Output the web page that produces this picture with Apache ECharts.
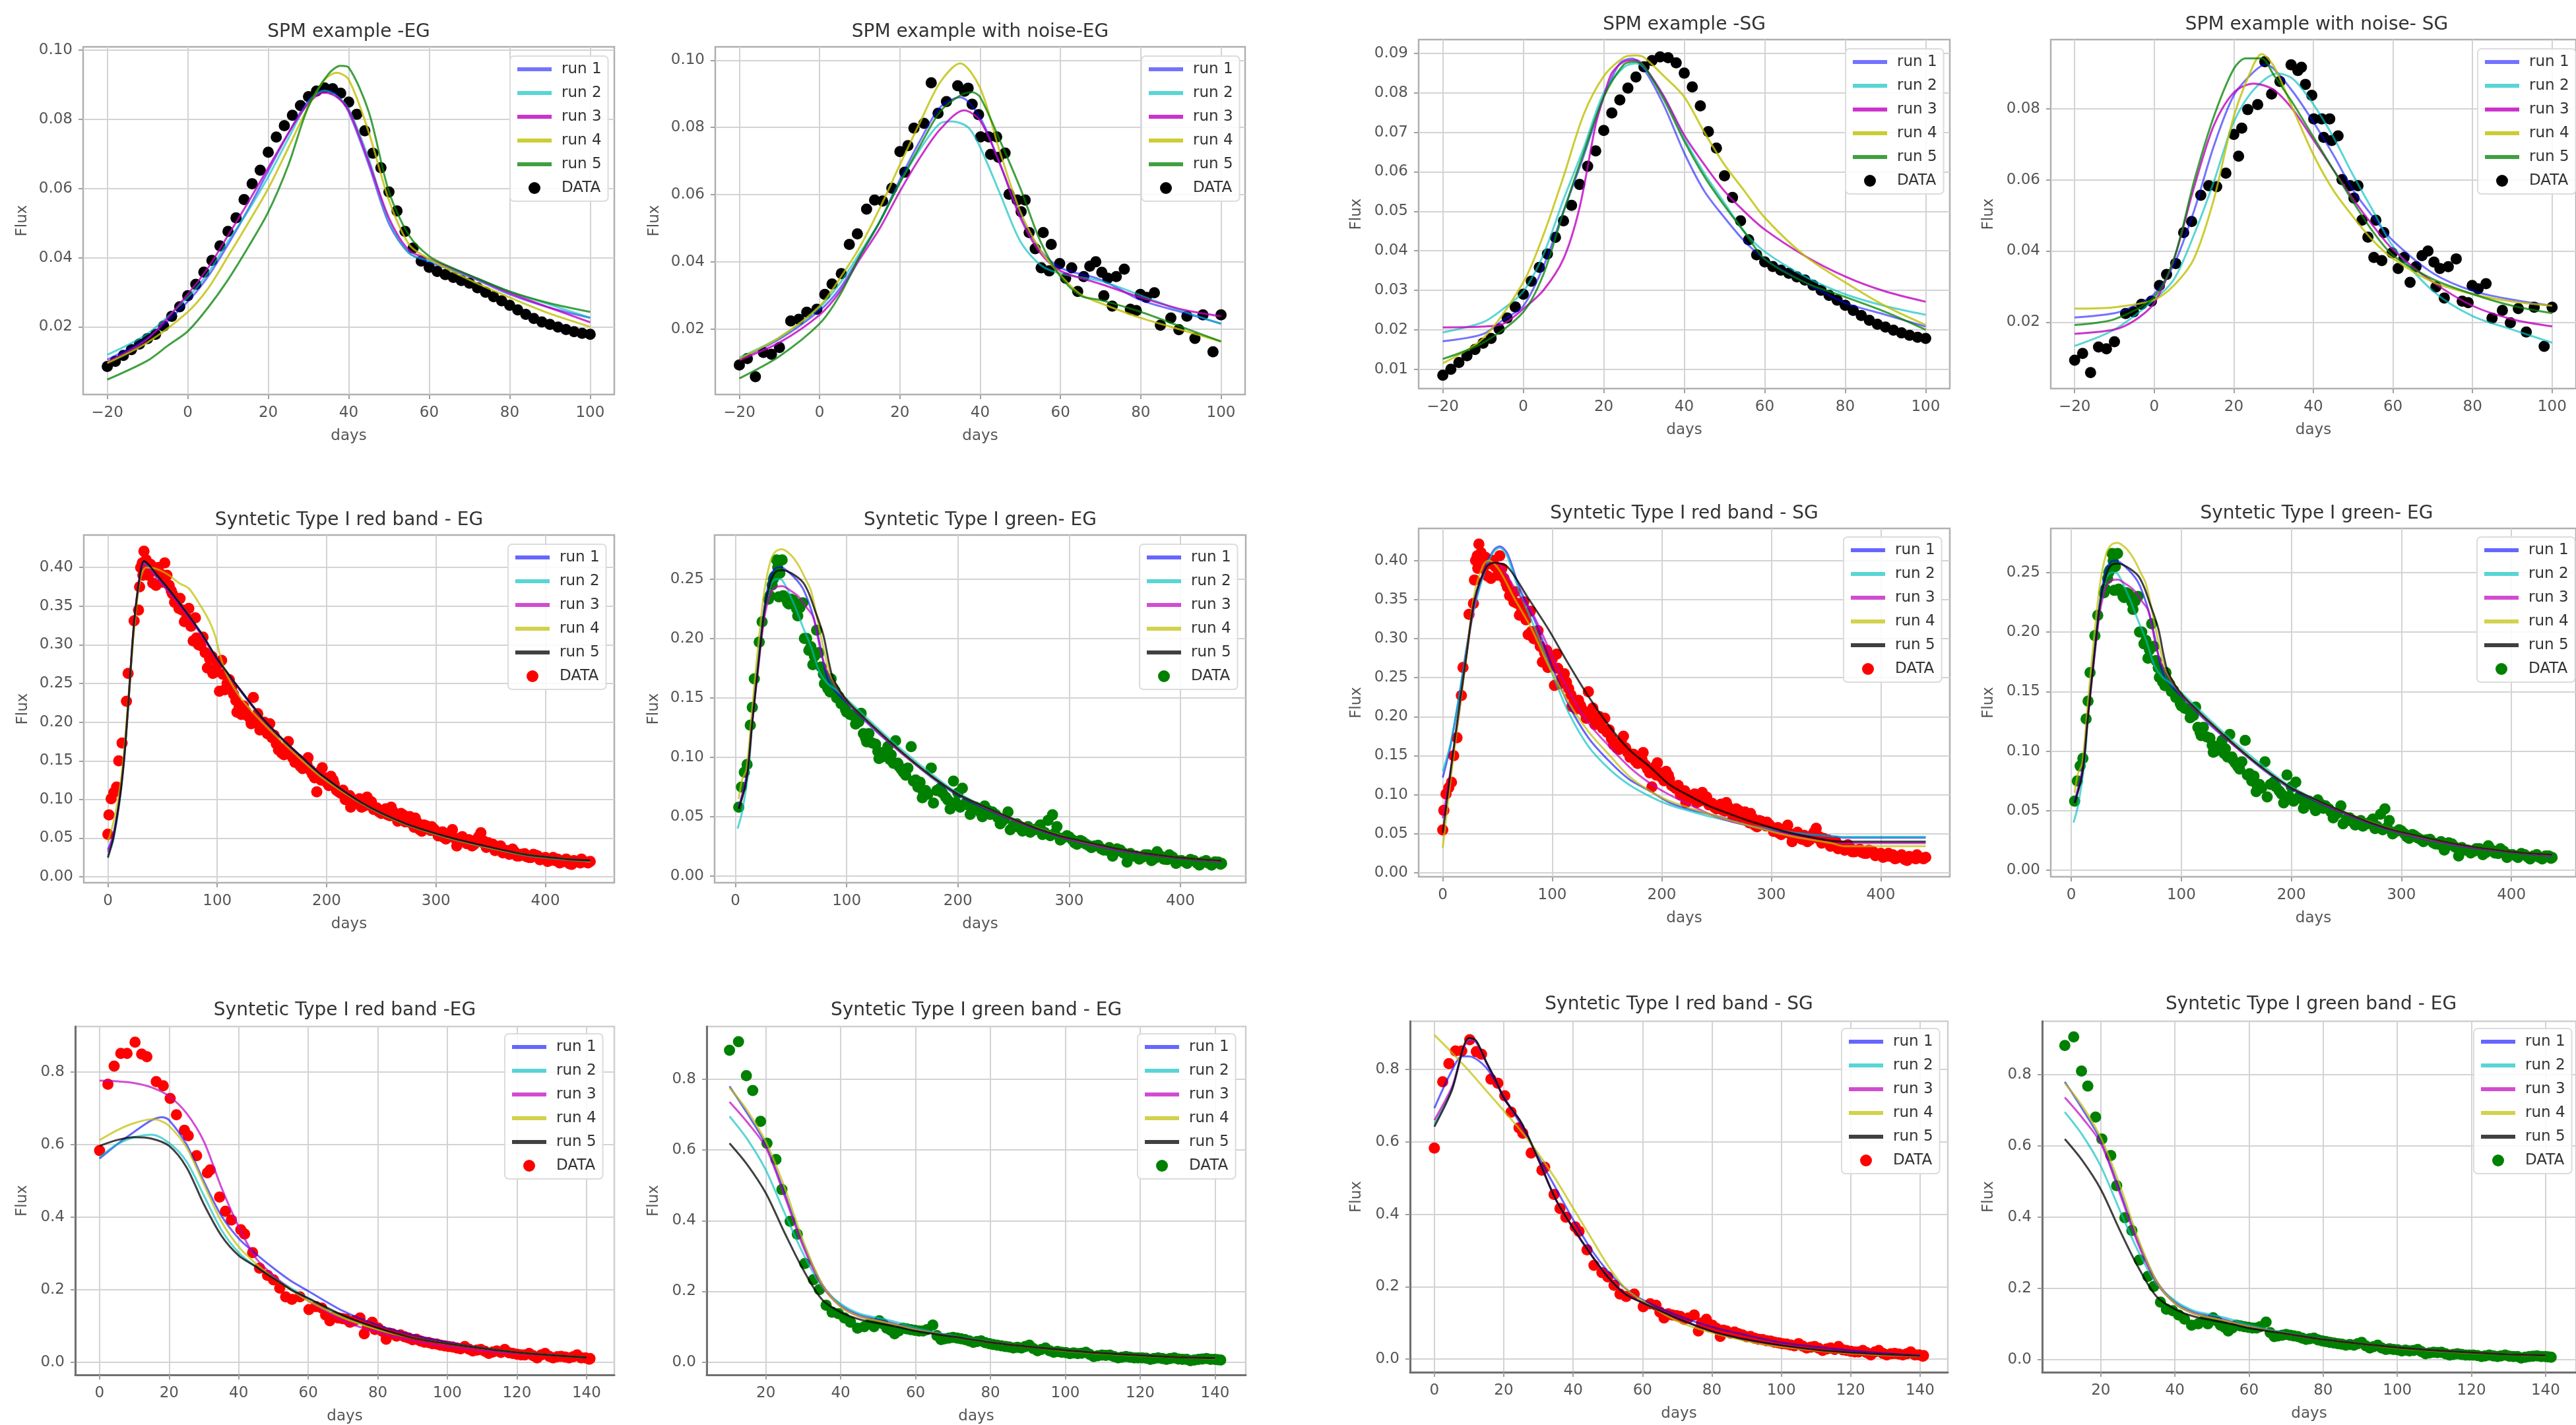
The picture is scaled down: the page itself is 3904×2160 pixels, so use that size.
<!DOCTYPE html>
<html>
<head>
<meta charset="utf-8">
<title>SPM fits</title>
<script src="https://cdn.jsdelivr.net/npm/echarts@6/dist/echarts.min.js"></script>
<style>
html, body { margin: 0; padding: 0; background: #ffffff; }
#chart { width: 3904px; height: 2160px; }
</style>
</head>
<body>
<div id="chart"></div>
<script>
// ---------- data: SPM example (smooth), used by panels 1 and 3 ----------
const spmDays = [-20,-18,-16,-14,-12,-10,-8,-6,-4,-2,0,2,4,6,8,10,12,14,16,18,20,22,24,26,28,30,32,34,36,38,40,42,44,46,48,50,52,54,56,58,60,62,64,66,68,70,72,74,76,78,80,82,84,86,88,90,92,94,96,98,100];
const spmFlux = [0.0085,0.0100,0.0117,0.0134,0.0150,0.0166,0.0178,0.0202,0.0230,0.0258,0.0290,0.0323,0.0358,0.0392,0.0434,0.0476,0.0515,0.0568,0.0614,0.0653,0.0705,0.0749,0.0782,0.0812,0.0840,0.0866,0.0882,0.0891,0.0889,0.0876,0.0850,0.0815,0.0767,0.0702,0.0660,0.0590,0.0535,0.0476,0.0428,0.0390,0.0372,0.0360,0.0351,0.0343,0.0334,0.0326,0.0313,0.0300,0.0287,0.0275,0.0262,0.0249,0.0236,0.0224,0.0214,0.0207,0.0199,0.0192,0.0186,0.0181,0.0178];

// ---------- data: SPM example with noise, used by panels 2 and 4 ----------
const noisyDays = [-20,-18,-16,-14,-12,-10,-7.2,-5.2,-3.2,-0.7,1.3,3.1,5.4,7.4,9.4,11.7,13.7,15.7,18,20,21.2,22,23.5,26,27.8,29.5,31.6,34.4,36.1,37,38,39.6,40.1,42.1,44.1,42.6,44.6,46.2,47.2,49.2,50.2,51.2,52.2,53.7,55.7,57.7,55.2,57.2,59.8,61.3,62.8,64.3,65.8,67.3,68.8,70.3,71.8,70.8,72.9,73.9,75.9,77.4,78.9,79.9,81.4,83.4,84.9,87.5,89.5,91.5,93.5,95.5,98,100];
const noisyFlux = [0.0093,0.0112,0.0058,0.0130,0.0125,0.0145,0.0224,0.0229,0.0250,0.0259,0.0303,0.0334,0.0365,0.0452,0.0483,0.0557,0.0584,0.0581,0.0619,0.0728,0.0667,0.0746,0.0798,0.0812,0.0933,0.0842,0.0877,0.0924,0.0908,0.0917,0.0869,0.0838,0.0772,0.0772,0.0772,0.0720,0.0711,0.0724,0.0601,0.0584,0.0549,0.0584,0.0487,0.0439,0.0487,0.0452,0.0382,0.0373,0.0395,0.0351,0.0382,0.0312,0.0356,0.0387,0.0400,0.0369,0.0351,0.0299,0.0268,0.0356,0.0378,0.0259,0.0255,0.0303,0.0294,0.0308,0.0211,0.0233,0.0198,0.0238,0.0172,0.0242,0.0132,0.0242];

// ---------- data: synthetic Type I, red band, long (panels 5 and 7) ----------
const redLongDays = [0,1,3,5.5,8,10,13,17,18.5,24,28,29,31.5,33,35,39,43,44,48,52,50,56,59,63,65,68,72,74,76,80,78,81,85,89,93,96,100,104,102,107,111,115,118,122,124,128,131,133,137,141,144,148,152,156,159,163,165,169,172,176,180,183,187,191,193,196,200,204,207,211,215,219,222,226,230,233,237,241,244,248,252,256,259,263,267,270,274,278,281,285,289,293,296,300,304,307,311,315,319,322,326,330,333,337,341,344,348,352,356,359,363,367,370,374,378,381,385,389,393,396,400,404,407,411,415,419,422,426,430,433,437,441,
    30,32,34,36,37,41,46,54,58,61,66,70,83,87,91,95,98,105,109,113,117,120,126,130,135,139,143,146,150,154,157,161,167,171,174,178,182,185,189,195,198,202,206,209,213,217,221,224,228,232,235,239,243,246,250,254,258,261,265,268,272,276,280,283,287,291,295,298,302,306,309,313,317,320,324,328,331,335,339,343,346,350,354,357,361,365,368,372,376,380,383,387,391,395,398,402,406,409,413,417,421,424,428,432,435,439];
const redLongFlux = [0.055,0.080,0.101,0.109,0.116,0.150,0.173,0.227,0.263,0.331,0.345,0.375,0.406,0.421,0.410,0.404,0.396,0.377,0.392,0.406,0.381,0.377,0.366,0.360,0.347,0.345,0.335,0.347,0.324,0.335,0.305,0.309,0.299,0.290,0.282,0.263,0.274,0.280,0.240,0.242,0.255,0.236,0.213,0.210,0.221,0.208,0.198,0.232,0.211,0.194,0.190,0.198,0.183,0.164,0.160,0.168,0.175,0.154,0.150,0.143,0.149,0.154,0.133,0.110,0.135,0.141,0.122,0.130,0.120,0.110,0.112,0.103,0.090,0.099,0.101,0.095,0.103,0.097,0.088,0.084,0.086,0.080,0.090,0.078,0.076,0.080,0.074,0.069,0.076,0.061,0.067,0.063,0.065,0.059,0.057,0.051,0.055,0.061,0.040,0.050,0.046,0.048,0.040,0.048,0.057,0.046,0.044,0.042,0.036,0.040,0.032,0.029,0.036,0.027,0.029,0.030,0.025,0.029,0.027,0.023,0.025,0.021,0.025,0.023,0.019,0.023,0.017,0.021,0.019,0.023,0.019,0.020,
    0.400,0.390,0.400,0.395,0.390,0.380,0.400,0.390,0.370,0.355,0.360,0.330,0.300,0.310,0.270,0.285,0.265,0.262,0.250,0.244,0.228,0.220,0.214,0.205,0.200,0.190,0.200,0.185,0.180,0.172,0.165,0.158,0.160,0.148,0.152,0.140,0.145,0.138,0.128,0.125,0.128,0.118,0.125,0.112,0.108,0.100,0.105,0.094,0.098,0.090,0.092,0.096,0.087,0.089,0.082,0.088,0.079,0.084,0.072,0.082,0.071,0.078,0.064,0.070,0.059,0.066,0.060,0.062,0.053,0.058,0.049,0.057,0.050,0.045,0.052,0.043,0.047,0.042,0.052,0.044,0.038,0.041,0.034,0.038,0.031,0.034,0.030,0.032,0.027,0.028,0.026,0.025,0.028,0.022,0.024,0.020,0.022,0.021,0.018,0.021,0.020,0.016,0.020,0.018,0.020,0.018];

// ---------- data: synthetic Type I, green, long (panels 6 and 8) ----------
const greenLongDays = [3,5.4,8,10.5,13.4,15.2,17,21.4,24,29.7,33,35,37,42,39,45,50,48,55,56,60.5,64,67.8,73,75,69.6,77,80,86,89.5,93,97,100,106,109,113,117,120,126,129,133,137,140,144,147,151,155,158,162,166,169,173,176,178,184,189,193,196,200,204,207,213,216,220,224,227,231,234,240,245,247,253,258,263,269,274,278,283,285,289,292,298,303,307,312,318,323,329,334,339,343,349,352,358,363,368,374,379,385,390,396,401,406,412,417,423,428,434,437,
    31,34,38,40,43,47,52,58,62,66,71,79,83,85,88,91,95,99,103,108,111,115,118,123,128,131,135,139,142,146,149,153,160,164,168,171,181,186,191,198,202,209,211,218,222,229,236,238,242,250,255,260,265,271,276,281,287,294,300,305,310,315,320,326,331,336,341,346,355,360,366,371,377,382,388,393,398,404,409,415,420,425,431,436];
const greenLongFlux = [0.058,0.075,0.0875,0.094,0.127,0.142,0.166,0.197,0.214,0.233,0.245,0.252,0.266,0.266,0.235,0.234,0.233,0.229,0.225,0.219,0.230,0.200,0.193,0.207,0.188,0.178,0.176,0.162,0.166,0.156,0.151,0.146,0.138,0.135,0.132,0.137,0.116,0.120,0.111,0.099,0.104,0.109,0.102,0.114,0.0925,0.0875,0.091,0.109,0.081,0.079,0.071,0.069,0.091,0.0615,0.074,0.0665,0.0565,0.080,0.070,0.074,0.0615,0.0553,0.058,0.054,0.059,0.0553,0.054,0.0516,0.0466,0.054,0.039,0.044,0.038,0.0417,0.039,0.043,0.0367,0.034,0.0516,0.0417,0.0305,0.034,0.0305,0.0268,0.029,0.0255,0.0255,0.023,0.0218,0.0169,0.023,0.0193,0.0119,0.0169,0.0144,0.018,0.0131,0.0206,0.0144,0.018,0.0107,0.0131,0.0107,0.0131,0.0094,0.0131,0.0094,0.0119,0.0107,
    0.236,0.250,0.260,0.255,0.236,0.230,0.232,0.226,0.200,0.190,0.185,0.170,0.158,0.155,0.158,0.150,0.145,0.140,0.136,0.128,0.130,0.120,0.113,0.112,0.105,0.100,0.101,0.098,0.095,0.095,0.090,0.085,0.080,0.075,0.066,0.072,0.072,0.070,0.064,0.062,0.058,0.060,0.052,0.057,0.050,0.052,0.049,0.044,0.048,0.043,0.041,0.040,0.037,0.040,0.035,0.047,0.036,0.032,0.033,0.028,0.030,0.027,0.024,0.026,0.022,0.024,0.020,0.022,0.019,0.017,0.016,0.018,0.015,0.017,0.014,0.016,0.013,0.012,0.014,0.011,0.012,0.011,0.012,0.010];

// ---------- data: synthetic Type I, red band, short (panels 9 and 11) ----------
const redShortDays = [0,2.4,4.2,6.1,7.9,10.2,12.1,13.6,16.3,18.3,20.3,22.1,24.4,25.5,27.9,31,34.5,36.2,37.9,40.6,41.7,44,46,48.3,50,51.8,53.5,55.3,57.6,60.2,62.2,63.9,66.2,68.6,70.9,73.2,74.9,76.1,78.4,80.1,82.4,84.2,86.5,88.8,91.1,93.4,95.7,98,100.3,102.7,105,107.3,109.6,111.9,114.2,116.5,118.8,121.2,123.5,125.8,128.1,130.4,132.7,135,137.3,139.7,140.8,
    31.8,65,67.4,69.8,72,77,79.2,81.3,83.3,85.4,87.7,90,92.3,94.6,96.9,99.2,101.5,103.8,106.2,108.5,110.8,113.1,115.4,117.7,120,122.3,124.6,127,129.3,131.6,133.9,136.2,138.5,141];
const redShortFlux = [0.583,0.766,0.816,0.851,0.851,0.882,0.849,0.842,0.773,0.762,0.727,0.682,0.639,0.624,0.569,0.522,0.455,0.416,0.392,0.365,0.353,0.302,0.259,0.239,0.227,0.204,0.18,0.173,0.18,0.145,0.153,0.149,0.114,0.122,0.118,0.114,0.122,0.078,0.11,0.094,0.063,0.078,0.075,0.067,0.063,0.055,0.051,0.047,0.043,0.039,0.043,0.031,0.035,0.024,0.031,0.035,0.024,0.02,0.024,0.012,0.024,0.012,0.016,0.012,0.02,0.012,0.008,
    0.530,0.130,0.125,0.120,0.110,0.100,0.090,0.085,0.080,0.072,0.070,0.062,0.058,0.054,0.050,0.045,0.042,0.037,0.036,0.033,0.030,0.028,0.027,0.026,0.022,0.020,0.018,0.020,0.016,0.015,0.014,0.015,0.012,0.010];

// ---------- data: synthetic Type I, green band, short (panels 10 and 12) ----------
const greenShortDays = [10.3,12.7,14.8,16.5,18.6,20.3,22.7,24.3,26.5,28.4,30.4,32.7,34.3,36.1,37.7,39.4,41,42.6,44.5,46.3,47.9,50.3,52.3,54.4,56.6,58.7,60.9,63,64.6,66.8,68.9,71.1,73.2,75.4,77.5,79.7,81.8,84,86.1,88.3,90.4,92.6,94.7,96.9,99,101.2,103.3,105.5,107.6,109.8,111.9,114.1,116.2,118.4,120.5,122.7,124.8,127,129.1,131.3,133.4,135.6,137.7,139.9,141.5,
    48.9,51.3,53.4,55.5,57.6,59.8,62,65.7,67.8,70,72.1,74.3,76.4,78.6,80.7,82.9,85,87.2,89.3,91.5,93.6,95.8,97.9,100.1,102.2,104.4,106.5,108.7,110.8,113,115.1,117.3,119.4,121.6,123.7,125.9,128,130.2,132.4,134.5,136.6,138.8,140.7];
const greenShortFlux = [0.882,0.906,0.81,0.768,0.681,0.619,0.573,0.488,0.398,0.362,0.279,0.233,0.205,0.161,0.141,0.137,0.125,0.113,0.096,0.1,0.109,0.117,0.096,0.08,0.096,0.092,0.088,0.092,0.105,0.064,0.068,0.068,0.064,0.056,0.06,0.052,0.048,0.044,0.04,0.04,0.048,0.032,0.04,0.028,0.028,0.024,0.024,0.028,0.016,0.02,0.02,0.012,0.016,0.012,0.012,0.008,0.012,0.008,0.012,0.008,0.004,0.008,0.01,0.008,0.006,
    0.100,0.108,0.090,0.088,0.094,0.090,0.088,0.075,0.066,0.070,0.066,0.060,0.058,0.055,0.050,0.046,0.043,0.042,0.044,0.038,0.036,0.032,0.030,0.027,0.026,0.025,0.022,0.018,0.019,0.016,0.014,0.014,0.012,0.011,0.010,0.010,0.010,0.009,0.008,0.006,0.009,0.008,0.007];

// ---------- fitted runs, [day, flux] ----------
const p1Run1 = [[-20,0.0105],[-10,0.0168],[0,0.0273],[5,0.0345],[10,0.0438],[15,0.054],[20,0.0651],[25,0.076],[30,0.0855],[34,0.0885],[37,0.087],[40,0.0821],[45,0.0668],[50,0.0498],[55,0.0413],[60,0.0387],[70,0.0345],[80,0.0294],[90,0.0255],[100,0.0226]];
const p1Run2 = [[-20,0.0119],[-10,0.018],[0,0.0285],[5,0.0355],[10,0.0447],[15,0.0535],[20,0.0634],[25,0.0745],[30,0.0851],[34,0.0883],[37,0.0868],[40,0.083],[45,0.0685],[50,0.0506],[55,0.0413],[60,0.0391],[70,0.0349],[80,0.0302],[90,0.0264],[100,0.0226]];
const p1Run3 = [[-20,0.0098],[-10,0.0165],[0,0.0294],[5,0.037],[10,0.0464],[15,0.056],[20,0.066],[25,0.076],[30,0.0847],[34,0.0878],[37,0.0865],[40,0.0826],[45,0.0677],[50,0.0515],[55,0.0421],[60,0.0396],[70,0.0349],[80,0.0298],[90,0.0255],[100,0.0213]];
const p1Run4 = [[-20,0.0095],[-10,0.0155],[0,0.0243],[5,0.031],[10,0.0404],[15,0.05],[20,0.06],[25,0.0718],[30,0.0838],[34,0.0915],[37,0.0935],[40,0.0915],[45,0.0762],[50,0.0566],[55,0.0438],[60,0.0396],[70,0.0336],[80,0.0285],[90,0.0238],[100,0.02]];
const p1Run5 = [[-20,0.0047],[-10,0.0102],[-5,0.0145],[0,0.0187],[5,0.0255],[10,0.0336],[15,0.043],[20,0.0532],[25,0.0668],[30,0.0838],[35,0.0932],[38,0.0955],[40,0.095],[45,0.0821],[50,0.0591],[55,0.0464],[60,0.0404],[65,0.0374],[70,0.0349],[80,0.0302],[90,0.0268],[100,0.0243]];

const p2Run1 = [[-20,0.0111],[-10,0.017],[0,0.0255],[5,0.032],[10,0.0417],[15,0.052],[20,0.0645],[25,0.076],[30,0.086],[35,0.089],[40,0.0829],[45,0.0689],[50,0.054],[55,0.0435],[60,0.0382],[70,0.0347],[80,0.0286],[90,0.0251],[100,0.0216]];
const p2Run2 = [[-20,0.0115],[-10,0.0175],[0,0.0264],[5,0.0335],[10,0.0426],[15,0.052],[20,0.0636],[25,0.0735],[30,0.0812],[33,0.0818],[37,0.08],[40,0.0741],[45,0.0601],[50,0.0461],[55,0.0391],[60,0.0365],[70,0.0343],[80,0.03],[90,0.0255],[100,0.0215]];
const p2Run3 = [[-20,0.0108],[-10,0.016],[0,0.0242],[5,0.031],[10,0.0408],[15,0.05],[20,0.061],[25,0.071],[30,0.0794],[36,0.0851],[40,0.082],[45,0.0689],[50,0.0531],[55,0.0426],[60,0.0373],[70,0.0334],[80,0.0294],[90,0.0259],[100,0.0238]];
const p2Run4 = [[-20,0.0112],[-10,0.0175],[0,0.0268],[5,0.035],[10,0.0444],[15,0.056],[20,0.0689],[25,0.0815],[30,0.0934],[35,0.0991],[40,0.0917],[45,0.0724],[50,0.0549],[55,0.0435],[60,0.036],[65,0.0303],[70,0.0277],[80,0.0233],[90,0.0198],[100,0.0163]];
const p2Run5 = [[-20,0.0053],[-10,0.0119],[0,0.0216],[5,0.03],[10,0.0417],[15,0.052],[20,0.0636],[25,0.0745],[30,0.0847],[35,0.0895],[38,0.0905],[40,0.089],[45,0.0759],[50,0.0619],[55,0.0461],[60,0.0356],[65,0.0299],[70,0.0286],[80,0.0251],[90,0.0207],[100,0.0163]];

const p3Run1 = [[-20,0.0171],[-10,0.0189],[-5,0.0225],[0,0.026],[5,0.036],[10,0.05],[15,0.064],[20,0.079],[24,0.0875],[27,0.0887],[30,0.086],[35,0.0767],[40,0.0648],[45,0.0551],[50,0.0484],[55,0.0424],[60,0.0379],[70,0.032],[80,0.0268],[90,0.0238],[100,0.0208]];
const p3Run2 = [[-20,0.0193],[-10,0.0219],[-5,0.0253],[0,0.0297],[5,0.039],[10,0.053],[15,0.066],[20,0.08],[25,0.0865],[28,0.0875],[30,0.0864],[35,0.079],[40,0.0685],[45,0.0596],[50,0.0521],[55,0.0447],[60,0.0398],[70,0.0335],[80,0.029],[90,0.026],[100,0.0238]];
const p3Run3 = [[-20,0.0206],[-10,0.0208],[-5,0.0215],[0,0.0253],[5,0.03],[10,0.038],[14,0.051],[18,0.072],[20,0.079],[22,0.085],[25,0.0879],[28,0.0883],[30,0.0868],[35,0.079],[40,0.0693],[45,0.0618],[50,0.0551],[55,0.0499],[60,0.0454],[70,0.0387],[80,0.0335],[90,0.0297],[100,0.0271]];
const p3Run4 = [[-20,0.0115],[-10,0.0178],[0,0.032],[5,0.044],[10,0.0588],[15,0.0745],[20,0.0842],[25,0.089],[28,0.0895],[30,0.089],[35,0.0842],[40,0.079],[45,0.07],[50,0.0618],[55,0.0551],[60,0.0484],[70,0.0387],[80,0.032],[90,0.026],[100,0.0212]];
const p3Run5 = [[-20,0.0126],[-10,0.0167],[0,0.0245],[5,0.034],[10,0.0499],[15,0.0648],[20,0.079],[25,0.0872],[28,0.0879],[30,0.0868],[35,0.0782],[40,0.0678],[45,0.0588],[50,0.0514],[55,0.0447],[60,0.0379],[70,0.032],[80,0.0283],[90,0.0245],[100,0.02]];

const p4Run1 = [[-20,0.0213],[-10,0.0225],[-5,0.0246],[0,0.0279],[5,0.0363],[10,0.0513],[15,0.0696],[20,0.0838],[25,0.0904],[28,0.0925],[30,0.0913],[35,0.0846],[40,0.0763],[45,0.0671],[50,0.0571],[55,0.0496],[60,0.0429],[70,0.0338],[80,0.0288],[90,0.0263],[100,0.0246]];
const p4Run2 = [[-20,0.0133],[-10,0.0179],[0,0.0263],[5,0.0321],[10,0.0446],[15,0.0596],[20,0.0763],[25,0.0854],[31,0.09],[35,0.0883],[40,0.0813],[45,0.0721],[50,0.0613],[55,0.0513],[60,0.0413],[70,0.0288],[80,0.0217],[90,0.0179],[100,0.0142]];
const p4Run3 = [[-20,0.0167],[-10,0.0179],[-5,0.0204],[0,0.0254],[5,0.0379],[10,0.0579],[15,0.0754],[20,0.0846],[25,0.0871],[30,0.0854],[35,0.0796],[40,0.0713],[45,0.0629],[50,0.0546],[55,0.0471],[60,0.0404],[70,0.0313],[80,0.0246],[90,0.0208],[100,0.0188]];
const p4Run4 = [[-20,0.0238],[-10,0.0242],[0,0.0263],[5,0.0304],[10,0.0379],[15,0.0546],[20,0.0779],[25,0.0925],[27,0.0954],[30,0.0921],[35,0.0796],[40,0.0671],[45,0.0571],[50,0.0496],[55,0.0429],[60,0.0379],[70,0.0313],[80,0.0279],[90,0.0258],[100,0.0246]];
const p4Run5 = [[-20,0.0192],[-10,0.0208],[0,0.0271],[5,0.0379],[10,0.0596],[15,0.0779],[20,0.0913],[23,0.0942],[27,0.0942],[30,0.0896],[35,0.0813],[40,0.0721],[45,0.0629],[50,0.0538],[55,0.0454],[60,0.0388],[70,0.0321],[80,0.0279],[90,0.0246],[100,0.0225]];

const p5Run1 = [[0,0.035],[5,0.055],[11,0.105],[15,0.158],[18.5,0.222],[24,0.33],[29.6,0.393],[33,0.408],[37,0.403],[45,0.389],[59,0.365],[85,0.315],[100,0.281],[122,0.239],[141,0.205],[159,0.178],[178,0.153],[196,0.13],[233,0.094],[270,0.069],[307,0.052],[344,0.039],[381,0.029],[419,0.023],[441,0.021]];
const p5Run2 = [[0,0.028],[5,0.048],[11,0.1],[15,0.152],[18.5,0.216],[24,0.325],[29.6,0.39],[33,0.406],[37,0.402],[45,0.389],[59,0.366],[85,0.316],[100,0.282],[122,0.24],[141,0.206],[159,0.179],[178,0.154],[196,0.131],[233,0.095],[270,0.07],[307,0.052],[344,0.039],[381,0.028],[419,0.022],[441,0.02]];
const p5Run3 = [[0,0.032],[5,0.052],[11,0.104],[15,0.156],[18.5,0.22],[24,0.328],[29.6,0.391],[33,0.405],[37,0.4],[45,0.386],[59,0.363],[85,0.314],[100,0.281],[122,0.24],[141,0.206],[159,0.179],[178,0.154],[196,0.131],[233,0.095],[270,0.07],[307,0.053],[344,0.04],[381,0.029],[419,0.023],[441,0.021]];
const p5Run4 = [[0,0.045],[5,0.07],[11,0.115],[15,0.165],[18.5,0.225],[24,0.32],[29.6,0.385],[35,0.4],[45,0.398],[56,0.39],[65,0.38],[74,0.373],[85,0.35],[93,0.33],[98,0.312],[102,0.29],[107,0.267],[115,0.245],[125,0.225],[141,0.2],[159,0.175],[178,0.15],[196,0.128],[233,0.094],[270,0.069],[307,0.052],[344,0.039],[381,0.029],[441,0.02]];
const p5Run5 = [[0,0.0248],[5,0.05],[11,0.103],[15,0.155],[18.5,0.221],[24,0.328],[29.6,0.392],[33,0.408],[37,0.404],[45,0.39],[59,0.366],[85,0.316],[100,0.282],[122,0.24],[141,0.206],[159,0.179],[178,0.154],[196,0.131],[233,0.095],[270,0.07],[307,0.053],[344,0.04],[381,0.029],[419,0.023],[441,0.021]];

const p6Run1 = [[3,0.058],[10,0.085],[15,0.132],[20.6,0.182],[26,0.226],[31.5,0.252],[36,0.259],[40.6,0.26],[50,0.254],[60,0.243],[66,0.23],[71,0.215],[76,0.195],[81,0.172],[86,0.16],[100,0.146],[125,0.123],[150,0.103],[175,0.084],[200,0.068],[250,0.047],[300,0.031],[350,0.021],[400,0.015],[437,0.012]];
const p6Run2 = [[2,0.04],[6,0.054],[12,0.091],[17,0.153],[24,0.21],[31.5,0.245],[37,0.25],[42,0.249],[53,0.228],[60.5,0.21],[68,0.193],[75,0.173],[82,0.163],[90,0.157],[100,0.149],[125,0.127],[150,0.106],[175,0.087],[200,0.07],[250,0.048],[300,0.032],[350,0.022],[400,0.0155],[437,0.0125]];
const p6Run3 = [[3,0.057],[10,0.083],[15,0.128],[20.6,0.176],[26,0.217],[31.5,0.238],[36,0.243],[42,0.244],[50,0.24],[57,0.235],[64,0.226],[70,0.218],[77,0.188],[82,0.173],[88,0.163],[100,0.147],[125,0.124],[150,0.103],[175,0.085],[200,0.069],[250,0.047],[300,0.031],[350,0.021],[400,0.015],[437,0.012]];
const p6Run4 = [[3,0.065],[6,0.081],[10,0.09],[15,0.14],[20.6,0.195],[26,0.24],[31.5,0.265],[36,0.273],[41.7,0.275],[50,0.27],[57,0.261],[63,0.25],[68,0.24],[75,0.21],[82,0.18],[86,0.168],[100,0.148],[125,0.125],[150,0.104],[175,0.085],[200,0.069],[250,0.048],[300,0.032],[350,0.022],[400,0.0156],[437,0.013]];
const p6Run5 = [[3,0.0565],[10,0.081],[15,0.128],[20.6,0.178],[26,0.223],[31.5,0.2475],[36,0.256],[42,0.2575],[50,0.255],[60.5,0.2475],[66,0.238],[71,0.225],[79,0.203],[84,0.18],[88,0.166],[100,0.148],[125,0.125],[150,0.104],[175,0.085],[200,0.069],[225,0.058],[250,0.048],[275,0.039],[300,0.032],[350,0.022],[400,0.0156],[437,0.013]];

const p7Run1 = [[0,0.122],[7,0.162],[14.5,0.222],[22,0.29],[29,0.343],[40,0.395],[47,0.414],[52,0.418],[59,0.409],[70,0.365],[85,0.32],[100,0.264],[115,0.215],[133,0.173],[152,0.143],[170,0.12],[189,0.105],[207,0.09],[226,0.081],[244,0.075],[263,0.068],[281,0.06],[300,0.055],[318,0.051],[337,0.049],[355,0.047],[367,0.045],[441,0.045]];
const p7Run2 = [[0,0.13],[7,0.165],[14.5,0.222],[22,0.288],[29,0.34],[40,0.393],[47,0.412],[52,0.416],[59,0.405],[70,0.36],[85,0.31],[100,0.255],[115,0.205],[133,0.162],[152,0.133],[170,0.113],[189,0.098],[207,0.087],[226,0.079],[244,0.072],[263,0.066],[281,0.06],[300,0.056],[318,0.052],[337,0.049],[355,0.047],[367,0.046],[441,0.046]];
const p7Run3 = [[0,0.07],[7,0.13],[14.5,0.2],[22,0.282],[29,0.345],[37,0.385],[45,0.398],[52,0.395],[59,0.38],[70,0.355],[81,0.335],[96,0.29],[115,0.233],[133,0.192],[152,0.162],[170,0.136],[189,0.115],[207,0.1],[226,0.087],[244,0.075],[263,0.066],[281,0.06],[318,0.049],[355,0.041],[367,0.038],[441,0.038]];
const p7Run4 = [[0,0.032],[7,0.117],[14.5,0.2],[22,0.282],[29,0.358],[37,0.394],[42,0.4],[51.5,0.388],[66,0.35],[81,0.313],[96,0.267],[115,0.218],[133,0.181],[152,0.151],[170,0.124],[189,0.105],[207,0.092],[244,0.075],[281,0.06],[318,0.047],[355,0.038],[367,0.034],[441,0.034]];
const p7Run5 = [[0,0.051],[7,0.128],[14.5,0.207],[22,0.282],[29,0.35],[40,0.392],[47,0.397],[59,0.392],[77,0.354],[96,0.313],[115,0.267],[133,0.226],[152,0.188],[170,0.158],[189,0.136],[207,0.113],[226,0.098],[244,0.085],[263,0.075],[281,0.066],[318,0.051],[355,0.041],[367,0.04],[441,0.04]];

const p9Run1 = [[0,0.561],[5,0.6],[10,0.635],[15,0.667],[18,0.675],[20,0.667],[25,0.6],[30,0.498],[35,0.404],[40,0.341],[45,0.298],[50,0.259],[55,0.224],[60,0.196],[70,0.141],[80,0.102],[90,0.075],[100,0.055],[110,0.039],[120,0.027],[130,0.02],[140,0.012]];
const p9Run2 = [[0,0.565],[5,0.6],[10,0.62],[15,0.627],[20,0.604],[25,0.553],[30,0.459],[35,0.365],[40,0.302],[45,0.263],[50,0.235],[55,0.204],[60,0.176],[70,0.125],[80,0.09],[90,0.067],[100,0.051],[120,0.027],[140,0.013]];
const p9Run3 = [[0,0.776],[5,0.774],[10,0.769],[15,0.757],[20,0.733],[25,0.686],[30,0.608],[35,0.482],[40,0.373],[45,0.286],[50,0.239],[55,0.2],[60,0.169],[70,0.114],[80,0.082],[90,0.059],[100,0.043],[110,0.031],[120,0.024],[130,0.018],[140,0.013]];
const p9Run4 = [[0,0.612],[5,0.639],[10,0.659],[15,0.669],[17,0.667],[20,0.651],[25,0.592],[30,0.49],[35,0.388],[40,0.318],[45,0.271],[50,0.231],[55,0.2],[60,0.169],[70,0.122],[80,0.09],[90,0.067],[100,0.051],[120,0.027],[140,0.013]];
const p9Run5 = [[0,0.596],[5,0.612],[10,0.62],[15,0.616],[20,0.596],[25,0.537],[30,0.435],[35,0.349],[40,0.294],[45,0.263],[50,0.231],[55,0.2],[60,0.176],[70,0.129],[80,0.094],[90,0.067],[100,0.051],[120,0.027],[140,0.013]];

const p10Run1 = [[10.3,0.78],[15,0.704],[20,0.615],[25,0.478],[30,0.334],[35,0.221],[40,0.161],[45,0.133],[50,0.121],[55,0.107],[60,0.094],[70,0.073],[80,0.057],[90,0.044],[100,0.033],[110,0.025],[120,0.019],[130,0.014],[140,0.011]];
const p10Run2 = [[10.3,0.695],[15,0.631],[20,0.543],[25,0.422],[30,0.306],[35,0.213],[40,0.165],[45,0.137],[50,0.125],[55,0.113],[60,0.096],[70,0.074],[80,0.057],[90,0.044],[100,0.033],[110,0.025],[120,0.019],[130,0.014],[140,0.011]];
const p10Run3 = [[10.3,0.736],[15,0.679],[20,0.607],[25,0.47],[30,0.326],[35,0.217],[40,0.157],[45,0.129],[50,0.117],[55,0.105],[60,0.092],[70,0.072],[80,0.056],[90,0.044],[100,0.033],[110,0.025],[120,0.019],[130,0.014],[140,0.011]];
const p10Run4 = [[10.3,0.776],[15,0.712],[20,0.623],[25,0.494],[30,0.342],[35,0.221],[40,0.157],[45,0.129],[50,0.117],[55,0.105],[60,0.092],[70,0.072],[80,0.056],[90,0.044],[100,0.032],[110,0.024],[120,0.018],[130,0.014],[140,0.01]];
const p10Run5 = [[10.3,0.619],[15,0.559],[20,0.478],[25,0.366],[30,0.261],[35,0.177],[40,0.141],[45,0.121],[50,0.11],[55,0.1],[60,0.088],[70,0.072],[80,0.056],[90,0.044],[100,0.033],[110,0.025],[120,0.019],[130,0.014],[140,0.011]];

const p11Run1 = [[0,0.693],[5,0.796],[8,0.836],[10,0.836],[15,0.804],[20,0.725],[25,0.646],[30,0.559],[35,0.472],[40,0.385],[45,0.306],[50,0.243],[55,0.196],[60,0.164],[70,0.121],[80,0.089],[90,0.066],[100,0.046],[110,0.034],[120,0.024],[130,0.016],[140,0.01]];
const p11Run2 = [[0,0.65],[5,0.745],[10,0.883],[12,0.878],[15,0.82],[18,0.764],[20,0.721],[25,0.654],[30,0.551],[35,0.441],[40,0.362],[45,0.291],[50,0.227],[55,0.18],[60,0.156],[70,0.113],[80,0.077],[90,0.054],[100,0.038],[110,0.026],[120,0.018],[130,0.013],[140,0.009]];
const p11Run3 = [[0,0.66],[5,0.75],[10,0.88],[12,0.875],[15,0.818],[18,0.763],[20,0.72],[25,0.653],[30,0.55],[35,0.441],[40,0.362],[45,0.291],[50,0.227],[55,0.18],[60,0.156],[70,0.113],[80,0.077],[90,0.054],[100,0.038],[110,0.026],[120,0.018],[130,0.013],[140,0.009]];
const p11Run4 = [[0,0.895],[5,0.847],[10,0.796],[15,0.741],[20,0.686],[25,0.63],[30,0.567],[35,0.496],[40,0.417],[45,0.338],[50,0.259],[55,0.196],[60,0.161],[70,0.105],[80,0.073],[90,0.05],[100,0.034],[120,0.016],[140,0.008]];
const p11Run5 = [[0,0.642],[5,0.741],[10,0.887],[12,0.88],[15,0.82],[18,0.764],[20,0.721],[25,0.654],[30,0.551],[35,0.441],[40,0.362],[45,0.291],[50,0.227],[55,0.18],[60,0.156],[70,0.113],[80,0.077],[90,0.054],[100,0.038],[110,0.026],[120,0.018],[130,0.013],[140,0.009]];

// ---------- tick labels ----------
const spmDayTicks = [-20, 0, 20, 40, 60, 80, 100];
const longDayTicks = [0, 100, 200, 300, 400];
const shortDayTicks = [0, 20, 40, 60, 80, 100, 120, 140];
const shortDayTicksG = [20, 40, 60, 80, 100, 120, 140];
const spmFluxTicks = [0.02, 0.04, 0.06, 0.08, 0.10];
const spmSgFluxTicks = [0.01, 0.02, 0.03, 0.04, 0.05, 0.06, 0.07, 0.08, 0.09];
const spmNoiseSgFluxTicks = [0.02, 0.04, 0.06, 0.08];
const redFluxTicks = [0, 0.05, 0.10, 0.15, 0.20, 0.25, 0.30, 0.35, 0.40];
const greenFluxTicks = [0, 0.05, 0.10, 0.15, 0.20, 0.25];
const shortFluxTicks = [0, 0.2, 0.4, 0.6, 0.8];

const runNames = ['run 1', 'run 2', 'run 3', 'run 4', 'run 5'];
const colorsTop = ['rgba(0,0,255,0.55)', 'rgba(0,191,191,0.65)', 'rgba(191,0,191,0.8)', 'rgba(191,191,0,0.8)', 'rgba(0,128,0,0.75)'];
const colorsLow = ['rgba(0,0,255,0.6)', 'rgba(0,191,191,0.65)', 'rgba(191,0,191,0.7)', 'rgba(191,191,0,0.7)', 'rgba(0,0,0,0.75)'];

function zip(xs, ys) {
    return xs.map(function (x, i) { return [x, ys[i]]; });
}

// panel list: box = [left, top, width, height] of the plot area
const panels = [
    { title: 'SPM example -EG', runs: [p1Run1, p1Run2, p1Run3, p1Run4, p1Run5], dx: spmDays, dy: spmFlux, dataColor: '#000000', colors: colorsTop,
      box: [126, 71, 805, 527], titleY: 49, legendAt: [773, 85], x: [-26, 106], xt: spmDayTicks, y: [0.0004, 0.101], yt: spmFluxTicks, dec: 2, nameGap: 80 },
    { title: 'SPM example with noise-EG', runs: [p2Run1, p2Run2, p2Run3, p2Run4, p2Run5], dx: noisyDays, dy: noisyFlux, dataColor: '#000000', colors: colorsTop,
      box: [1084, 71, 803, 527], titleY: 49, legendAt: [1730, 85], x: [-26, 106], xt: spmDayTicks, y: [0.0005, 0.104], yt: spmFluxTicks, dec: 2, nameGap: 80 },
    { title: 'SPM example -SG', runs: [p3Run1, p3Run2, p3Run3, p3Run4, p3Run5], dx: spmDays, dy: spmFlux, dataColor: '#000000', colors: colorsTop,
      box: [2150, 60, 805, 529], titleY: 38, legendAt: [2797, 74], x: [-26, 106], xt: spmDayTicks, y: [0.0051, 0.0935], yt: spmSgFluxTicks, dec: 2, nameGap: 82 },
    { title: 'SPM example with noise- SG', runs: [p4Run1, p4Run2, p4Run3, p4Run4, p4Run5], dx: noisyDays, dy: noisyFlux, dataColor: '#000000', colors: colorsTop,
      box: [3108, 60, 806, 529], titleY: 38, legendAt: [3755, 74], x: [-26, 106], xt: spmDayTicks, y: [0.0013, 0.0995], yt: spmNoiseSgFluxTicks, dec: 2, nameGap: 82 },
    { title: 'Syntetic Type I red band - EG', runs: [p5Run1, p5Run2, p5Run3, p5Run4, p5Run5], dx: redLongDays, dy: redLongFlux, dataColor: '#ff0000', colors: colorsLow,
      box: [127, 811, 804, 527], titleY: 789, legendAt: [770, 825], x: [-22, 463], xt: longDayTicks, y: [-0.0076, 0.442], yt: redFluxTicks, dec: 2, nameGap: 80 },
    { title: 'Syntetic Type I green- EG', runs: [p6Run1, p6Run2, p6Run3, p6Run4, p6Run5], dx: greenLongDays, dy: greenLongFlux, dataColor: '#008000', colors: colorsLow,
      box: [1083, 811, 805, 527], titleY: 789, legendAt: [1727, 825], x: [-18.7, 458.7], xt: longDayTicks, y: [-0.0055, 0.287], yt: greenFluxTicks, dec: 2, nameGap: 80 },
    { title: 'Syntetic Type I red band - SG', runs: [p7Run1, p7Run2, p7Run3, p7Run4, p7Run5], dx: redLongDays, dy: redLongFlux, dataColor: '#ff0000', colors: colorsLow,
      box: [2150, 801, 805, 528], titleY: 779, legendAt: [2794, 814], x: [-22, 463], xt: longDayTicks, y: [-0.005, 0.441], yt: redFluxTicks, dec: 2, nameGap: 82 },
    { title: 'Syntetic Type I green- EG', runs: [p6Run1, p6Run2, p6Run3, p6Run4, p6Run5], dx: greenLongDays, dy: greenLongFlux, dataColor: '#008000', colors: colorsLow,
      box: [3108, 801, 806, 528], titleY: 779, legendAt: [3754, 814], x: [-18.7, 458.7], xt: longDayTicks, y: [-0.0055, 0.287], yt: greenFluxTicks, dec: 2, nameGap: 82 },
    { title: 'Syntetic Type I red band -EG', runs: [p9Run1, p9Run2, p9Run3, p9Run4, p9Run5], dx: redShortDays, dy: redShortFlux, dataColor: '#ff0000', colors: colorsLow,
      box: [114, 1556, 817, 531], titleY: 1532, legendAt: [765, 1567], x: [-7, 148], xt: shortDayTicks, y: [-0.035, 0.925], yt: shortFluxTicks, dec: 1, nameGap: 68, dark: true },
    { title: 'Syntetic Type I green band - EG', runs: [p10Run1, p10Run2, p10Run3, p10Run4, p10Run5], dx: greenShortDays, dy: greenShortFlux, dataColor: '#008000', colors: colorsLow,
      box: [1071, 1556, 817, 531], titleY: 1532, legendAt: [1724, 1567], x: [4.2, 148.2], xt: shortDayTicksG, y: [-0.036, 0.949], yt: shortFluxTicks, dec: 1, nameGap: 68, dark: true },
    { title: 'Syntetic Type I red band - SG', runs: [p11Run1, p11Run2, p11Run3, p11Run4, p11Run5], dx: redShortDays, dy: redShortFlux, dataColor: '#ff0000', colors: colorsLow,
      box: [2137, 1548, 815, 532], titleY: 1523, legendAt: [2791, 1559], x: [-7, 148], xt: shortDayTicks, y: [-0.036, 0.933], yt: shortFluxTicks, dec: 1, nameGap: 69, dark: true },
    { title: 'Syntetic Type I green band - EG', runs: [p10Run1, p10Run2, p10Run3, p10Run4, p10Run5], dx: greenShortDays, dy: greenShortFlux, dataColor: '#008000', colors: colorsLow,
      box: [3095, 1548, 815, 532], titleY: 1523, legendAt: [3749, 1559], x: [4.2, 148.2], xt: shortDayTicksG, y: [-0.036, 0.95], yt: shortFluxTicks, dec: 1, nameGap: 69, dark: true }
];

const FONT = 'DejaVu Sans';
const option = {
    animation: false,
    backgroundColor: '#ffffff',
    textStyle: { fontFamily: FONT },
    grid: [], xAxis: [], yAxis: [], legend: [], series: [], graphic: []
};

panels.forEach(function (p, i) {
    const b = p.box;
    const spine = p.dark ? { show: true, onZero: false, lineStyle: { color: '#707070', width: 3 } } : { show: false, onZero: false };
    option.grid.push({
        left: b[0], top: b[1], width: b[2], height: b[3],
        show: true, borderColor: p.dark ? '#cfcfcf' : '#b0b0b0', borderWidth: 2.5
    });
    option.xAxis.push({
        type: 'value', gridIndex: i, min: p.x[0], max: p.x[1],
        name: 'days', nameLocation: 'middle', nameGap: 52,
        nameTextStyle: { fontSize: 23, color: '#555555', fontFamily: FONT },
        axisLine: spine,
        axisTick: { show: true, length: 7, customValues: p.xt, lineStyle: { color: '#a0a0a0', width: 2 } },
        axisLabel: { customValues: p.xt, margin: 17, fontSize: 23, color: '#555555', fontFamily: FONT,
            formatter: function (v) { return v < 0 ? '\u2212' + Math.abs(v) : String(v); } },
        splitLine: { show: true, lineStyle: { color: '#d3d3d3', width: 2 } }
    });
    option.yAxis.push({
        type: 'value', gridIndex: i, min: p.y[0], max: p.y[1],
        name: 'Flux', nameLocation: 'middle', nameGap: p.nameGap,
        nameTextStyle: { fontSize: 23, color: '#555555', fontFamily: FONT },
        axisLine: spine,
        axisTick: { show: true, length: 7, customValues: p.yt, lineStyle: { color: '#a0a0a0', width: 2 } },
        axisLabel: { customValues: p.yt, margin: 16, fontSize: 23, color: '#555555', fontFamily: FONT,
            formatter: function (v) { return v.toFixed(p.dec); } },
        splitLine: { show: true, lineStyle: { color: '#d3d3d3', width: 2 } }
    });

    const items = [];
    p.runs.forEach(function (run, k) {
        const nm = runNames[k] + '|' + i;
        items.push({ name: nm });
        option.series.push({
            name: nm, type: 'line', xAxisIndex: i, yAxisIndex: i,
            data: run, symbol: 'none', smooth: 0.3, z: 3,
            lineStyle: { color: p.colors[k], width: 3 },
            itemStyle: { color: p.colors[k] }
        });
    });
    const dn = 'DATA|' + i;
    // the legend hides the dot that ECharts puts on line icons; only DATA keeps its marker
    items.push({ name: dn, itemStyle: { opacity: 1 } });
    option.series.push({
        name: dn, type: 'scatter', xAxisIndex: i, yAxisIndex: i,
        data: zip(p.dx, p.dy), symbol: 'circle', symbolSize: 17, z: 2,
        itemStyle: { color: p.dataColor, opacity: 1 }
    });

    option.legend.push({
        orient: 'vertical', left: p.legendAt[0], top: p.legendAt[1],
        data: items, selectedMode: false,
        formatter: function (n) { return n.split('|')[0]; },
        itemWidth: 52, itemHeight: 18, itemGap: 12,
        padding: [8, 10, 8, 8],
        backgroundColor: 'rgba(255,255,255,0.85)', borderColor: '#dcdcdc', borderWidth: 2, borderRadius: 6,
        itemStyle: { opacity: 0 },
        lineStyle: { width: 6 },
        textStyle: { fontSize: 23, color: '#333333', lineHeight: 24, fontFamily: FONT, padding: [0, 0, 0, 10] }
    });

    option.graphic.push({
        type: 'text', x: b[0] + b[2] / 2, y: p.titleY, z: 10,
        style: { text: p.title, font: '28px "DejaVu Sans"', fill: '#333333', align: 'center', verticalAlign: 'middle' }
    });
});

const chart = echarts.init(document.getElementById('chart'), null, { renderer: 'canvas', width: 3904, height: 2160 });
chart.setOption(option);
</script>
</body>
</html>
